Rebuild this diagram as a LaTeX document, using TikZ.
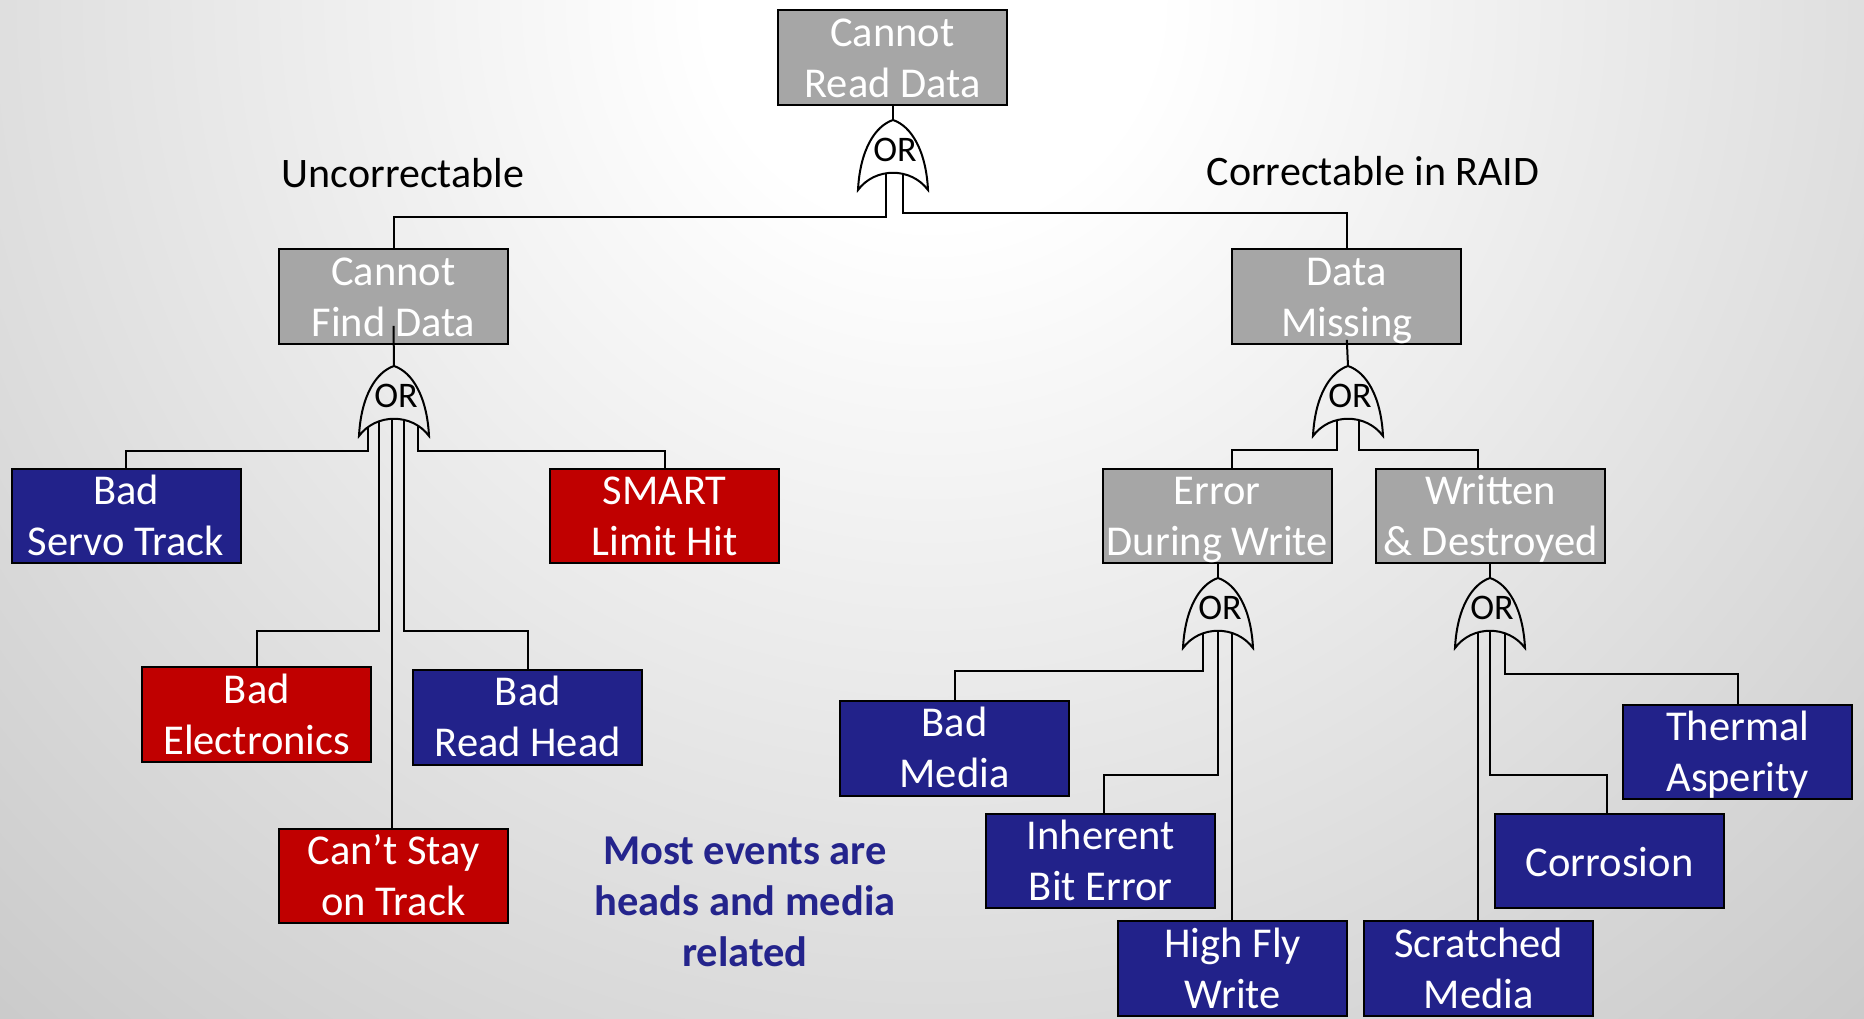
\documentclass[tikz,border=0pt]{standalone}
\usepackage{fontspec}
\setmainfont{Carlito}
\usetikzlibrary{calc}

\definecolor{boxgray}{RGB}{166,166,166}
\definecolor{boxblue}{RGB}{34,34,138}
\definecolor{boxred}{RGB}{192,0,0}
\definecolor{noteblue}{RGB}{36,36,140}

% soft spotlight behind the tree, brightest at the top centre
\pgfdeclareradialshading{backdrop}{\pgfpoint{0bp}{0bp}}{rgb(0bp)=(1,1,1); rgb(4bp)=(1,1,1); rgb(20bp)=(0.84,0.84,0.84); rgb(34bp)=(0.705,0.705,0.705); rgb(50bp)=(0.545,0.545,0.545)}

% event texts with fixed baselines, independent of the letters used
\newcommand\twolines[2]{\raisebox{-39.5pt}[0pt][0pt]{\begin{tabular}[b]{@{}c@{}}#1\\#2\end{tabular}}}
\newcommand\oneline[1]{\raisebox{-15pt}[0pt][0pt]{#1}}

\tikzset{
  event/.style={draw=black, line width=2pt, minimum width=229pt, minimum height=94.5pt,
    inner sep=0pt, text=white, font=\fontsize{42.5}{51}\selectfont},
  grayev/.style={event, fill=boxgray},
  blueev/.style={event, fill=boxblue},
  redev/.style={event, fill=boxred},
  wire/.style={line width=2pt, black},
  gateline/.style={line width=2pt, black, line join=miter},
  gatetext/.style={font=\fontsize{36}{40}\selectfont, inner sep=0pt, anchor=base},
  branch/.style={font=\fontsize{42}{48}\selectfont, inner sep=0pt, anchor=base},
  note/.style={font=\bfseries\fontsize{42.5}{51}\selectfont, text=noteblue, inner sep=0pt, anchor=base},
  orgate/.pic={
    \draw[gateline] (0,0) .. controls (-18,6) and (-33,30) .. (-35,70)
      .. controls (-18,47) and (18,47) .. (35,70)
      .. controls (33,30) and (18,6) .. (0,0) -- cycle;
    \coordinate (-tip) at (0,0);
    \node[gatetext] (-label) at (2,41.7) {OR};
  }
}

\begin{document}
\begin{tikzpicture}[x=1pt,y=-1pt]
\useasboundingbox (0,0) rectangle (1864,1018);
\begin{scope}
  \clip (0,0) rectangle (1864,1018);
  \shade[shading=backdrop] (932,0) circle[radius=1400pt];
\end{scope}

% events
\node[grayev] (crd)   at (892.5,57.7)  {\twolines{Cannot}{Read Data}};
\node[grayev] (cfd)   at (393.5,296.7) {\twolines{Cannot}{Find Data}};
\node[grayev] (dm)    at (1346.8,296.7){\twolines{Data}{Missing}};
\node[blueev] (bst)   at (126,515.8)   {\twolines{Bad}{Servo Track}};
\node[redev]  (smart) at (664.5,515.8) {\twolines{SMART}{Limit Hit}};
\node[redev]  (be)    at (256.8,714.5) {\twolines{Bad}{Electronics}};
\node[blueev] (brh)   at (527.8,717.3) {\twolines{Bad}{Read Head}};
\node[redev]  (cst)   at (393.5,876)   {\twolines{Can’t Stay}{on Track}};
\node[grayev] (edw)   at (1217.3,515.8){\twolines{Error}{During Write}};
\node[grayev] (wd)    at (1490.7,515.8){\twolines{Written}{\& Destroyed}};
\node[blueev] (bm)    at (954.6,748.3) {\twolines{Bad}{Media}};
\node[blueev] (ibe)   at (1100.8,861.2){\twolines{Inherent}{Bit Error}};
\node[blueev] (hfw)   at (1232.8,968.5){\twolines{High Fly}{Write}};
\node[blueev] (ta)    at (1737.8,752)  {\twolines{Thermal}{Asperity}};
\node[blueev] (cor)   at (1609.6,861.2){\oneline{Corrosion}};
\node[blueev] (sm)    at (1478.8,968.5){\twolines{Scratched}{Media}};

% branch labels and remark
\node[branch] (unc) at (403,187.3) {Uncorrectable};
\node[branch] (cir) at (1373,185) {Correctable in RAID};
\node[note] (remark) at (745,864.3) {\begin{tabular}[t]{@{}c@{}}Most events are\\heads and media\\related\end{tabular}};

% OR gates
\pic (g0) at (893,120)  {orgate};
\pic (g1) at (394,366)  {orgate};
\pic (g2) at (1348,366) {orgate};
\pic (g3) at (1218,578) {orgate};
\pic (g4) at (1490,578) {orgate};

% gate inputs, on the inner curve of each gate
\coordinate (g0a) at (886,173.3);
\coordinate (g0b) at (903,173.9);
\coordinate (g1a) at (368,427.2);
\coordinate (g1b) at (379,421.5);
\coordinate (g1c) at (392,418.8);
\coordinate (g1d) at (404,419.9);
\coordinate (g1e) at (418,425.8);
\coordinate (g2a) at (1337,420.1);
\coordinate (g2b) at (1359,420.1);
\coordinate (g3a) at (1203,633.5);
\coordinate (g3b) at (1218,630.8);
\coordinate (g3c) at (1232,633);
\coordinate (g4a) at (1478,632.4);
\coordinate (g4b) at (1490,630.8);
\coordinate (g4c) at (1505,633.5);

% outputs into the parent events
\draw[wire] (g0-tip |- crd.south) -- (g0-tip);
\draw[wire] ([yshift=19pt]cfd.south) -- (g1-tip);
\draw[wire] ([yshift=5pt]dm.south) -- (g2-tip);
\draw[wire] (g3-tip |- edw.south) -- (g3-tip);
\draw[wire] (g4-tip |- wd.south) -- (g4-tip);

% top gate
\draw[wire] (g0a) -- (g0a |- 0,217) -| (cfd.north);
\draw[wire] (g0b) -- (g0b |- 0,213) -| (dm.north);
% cannot find data
\draw[wire] (g1a) -- (g1a |- 0,451) -| (bst.north);
\draw[wire] (g1e) -- (g1e |- 0,451) -| (smart.north);
\draw[wire] (g1b) -- (g1b |- 0,631) -| (be.north);
\draw[wire] (g1c) -- (g1c |- cst.north);
\draw[wire] (g1d) -- (g1d |- 0,631) -| (brh.north);
% data missing
\draw[wire] (g2a) -- (g2a |- 0,450) -| ([xshift=14.3pt]edw.north);
\draw[wire] (g2b) -- (g2b |- 0,450) -| ([xshift=-13.1pt]wd.north);
% error during write
\draw[wire] (g3a) -- (g3a |- 0,671) -| (bm.north);
\draw[wire] (g3b) -- (g3b |- 0,775) -| ([xshift=3pt]ibe.north);
\draw[wire] (g3c) -- (g3c |- hfw.north);
% written and destroyed
\draw[wire] (g4a) -- (g4a |- sm.north);
\draw[wire] (g4b) -- (g4b |- 0,775) -| ([xshift=-2.6pt]cor.north);
\draw[wire] (g4c) -- (g4c |- 0,674) -| (ta.north);
\end{tikzpicture}
\end{document}
